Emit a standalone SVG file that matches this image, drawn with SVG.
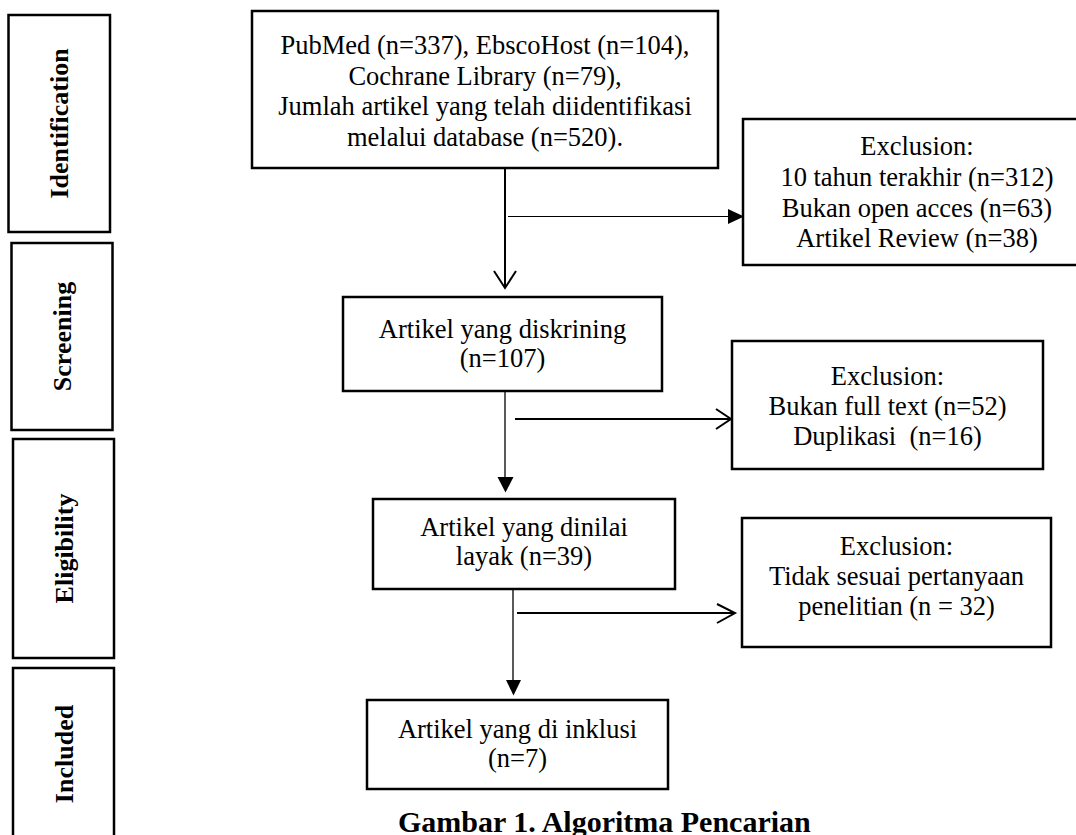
<svg xmlns="http://www.w3.org/2000/svg" width="1076" height="835" viewBox="0 0 1076 835">
<style>
.box{fill:#fff;stroke:#000;stroke-width:2.5}
.t{font-family:"Liberation Serif","Times New Roman",serif;font-size:26.5px;fill:#000;text-anchor:middle}
.lab{font-family:"Liberation Serif","Times New Roman",serif;font-size:26px;font-weight:bold;fill:#000;text-anchor:middle}
.cap{font-family:"Liberation Serif","Times New Roman",serif;font-size:30px;font-weight:bold;fill:#000}
.ln{fill:none;stroke:#000}
.head{fill:#000;stroke:none}
</style>
<rect width="1076" height="835" fill="#fff"/>
<g id="stage-identification">
<rect class="box" x="8.5" y="15" width="101.5" height="217"/>
<text class="lab" transform="translate(68,123.5) rotate(-90)">Identification</text>
</g>
<g id="stage-screening">
<rect class="box" x="11.5" y="243" width="101" height="187"/>
<text class="lab" transform="translate(71,336.5) rotate(-90)">Screening</text>
</g>
<g id="stage-eligibility">
<rect class="box" x="13" y="439" width="101" height="219"/>
<text class="lab" transform="translate(73,548.5) rotate(-90)">Eligibility</text>
</g>
<g id="stage-included">
<rect class="box" x="13" y="668" width="101" height="180"/>
<text class="lab" transform="translate(73,754) rotate(-90)">Included</text>
</g>
<g id="node-identified">
<rect class="box" x="252" y="11" width="466" height="157"/>
<text class="t" x="485" y="54">PubMed (n=337), EbscoHost (n=104),</text>
<text class="t" x="485" y="84.5">Cochrane Library (n=79),</text>
<text class="t" x="485" y="115">Jumlah artikel yang telah diidentifikasi</text>
<text class="t" x="485" y="145.5">melalui database (n=520).</text>
</g>
<g id="node-exclusion1">
<rect class="box" x="743" y="119" width="348" height="146"/>
<text class="t" x="917" y="155">Exclusion:</text>
<text class="t" x="917" y="186">10 tahun terakhir (n=312)</text>
<text class="t" x="917" y="217">Bukan open acces (n=63)</text>
<text class="t" x="917" y="247">Artikel Review (n=38)</text>
</g>
<g id="node-screened">
<rect class="box" x="343" y="297" width="319" height="94"/>
<text class="t" x="502.5" y="338">Artikel yang diskrining</text>
<text class="t" x="502.5" y="367">(n=107)</text>
</g>
<g id="node-exclusion2">
<rect class="box" x="732" y="341" width="311" height="128"/>
<text class="t" x="887.5" y="385">Exclusion:</text>
<text class="t" x="887.5" y="415">Bukan full text (n=52)</text>
<text class="t" x="887.5" y="445" xml:space="preserve">Duplikasi  (n=16)</text>
</g>
<g id="node-eligible">
<rect class="box" x="373" y="499" width="302" height="90"/>
<text class="t" x="524" y="536">Artikel yang dinilai</text>
<text class="t" x="524" y="565">layak (n=39)</text>
</g>
<g id="node-exclusion3">
<rect class="box" x="742" y="518" width="309" height="129"/>
<text class="t" x="896.5" y="555">Exclusion:</text>
<text class="t" x="896.5" y="585">Tidak sesuai pertanyaan</text>
<text class="t" x="896.5" y="615">penelitian (n = 32)</text>
</g>
<g id="node-included">
<rect class="box" x="367" y="700" width="301" height="89"/>
<text class="t" x="517.5" y="738">Artikel yang di inklusi</text>
<text class="t" x="517.5" y="767">(n=7)</text>
</g>
<g id="connectors">
<line class="ln" x1="505" y1="168" x2="505" y2="288" stroke-width="2"/>
<polyline class="ln" points="494,271 505,288 516,271" stroke-width="2"/>
<line class="ln" x1="508" y1="216.5" x2="730" y2="216.5" stroke-width="1.2"/>
<polygon class="head" points="728,209 744,216.5 728,224"/>
<line class="ln" x1="505" y1="391" x2="505" y2="480" stroke-width="1.3"/>
<polygon class="head" points="497.5,477 513.5,477 505.5,492.5"/>
<line class="ln" x1="515" y1="419" x2="731" y2="419" stroke-width="2"/>
<polyline class="ln" points="716,409 731,419 716,429" stroke-width="2"/>
<line class="ln" x1="513" y1="589" x2="513" y2="683" stroke-width="1.3"/>
<polygon class="head" points="506,680 521,680 513.5,695.5"/>
<line class="ln" x1="517" y1="613" x2="735" y2="613" stroke-width="2"/>
<polyline class="ln" points="717,604 735,613 717,623" stroke-width="2"/>
</g>
<text class="cap" x="398" y="832">Gambar 1. Algoritma Pencarian</text>
</svg>
